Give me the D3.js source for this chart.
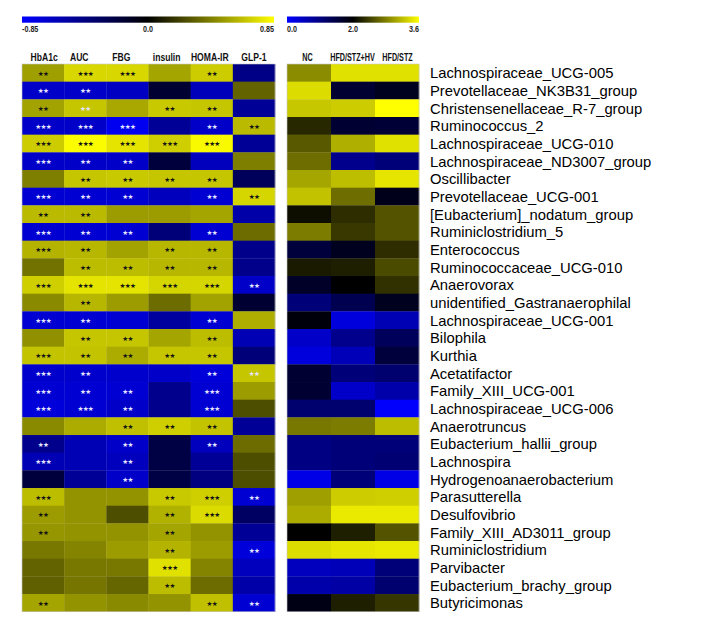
<!DOCTYPE html>
<html>
<head>
<meta charset="utf-8">
<script src="https://cdn.jsdelivr.net/npm/d3@7"></script>
<style>
  html, body { margin: 0; padding: 0; background: #fff; }
  svg { display: block; }
</style>
</head>
<body>
<svg id="chart" width="708" height="629"></svg>
<script>
// ---------- DATA ----------
const genera = [
  "Lachnospiraceae_UCG-005","Prevotellaceae_NK3B31_group","Christensenellaceae_R-7_group",
  "Ruminococcus_2","Lachnospiraceae_UCG-010","Lachnospiraceae_ND3007_group","Oscillibacter",
  "Prevotellaceae_UCG-001","[Eubacterium]_nodatum_group","Ruminiclostridium_5","Enterococcus",
  "Ruminococcaceae_UCG-010","Anaerovorax","unidentified_Gastranaerophilal","Lachnospiraceae_UCG-001",
  "Bilophila","Kurthia","Acetatifactor","Family_XIII_UCG-001","Lachnospiraceae_UCG-006",
  "Anaerotruncus","Eubacterium_hallii_group","Lachnospira","Hydrogenoanaerobacterium",
  "Parasutterella","Desulfovibrio","Family_XIII_AD3011_group","Ruminiclostridium","Parvibacter",
  "Eubacterium_brachy_group","Butyricimonas"
];
const clinicalIndices = ["HbA1c","AUC","FBG","insulin","HOMA-IR","GLP-1"];
const groups = ["NC","HFD/STZ+HV","HFD/STZ"];

// correlation coefficients (Spearman r) per clinical index, in genera order
const rHbA1c   = [0.53,-0.67,0.54,-0.67,0.68,-0.67,0.42,-0.70,0.62,-0.70,0.60,0.38,0.69,0.46,-0.70,0.48,0.65,-0.68,-0.70,-0.73,0.46,-0.47,-0.60,-0.20,0.63,0.52,0.50,0.40,0.33,0.32,0.55];
const rAUC     = [0.72,-0.67,0.66,-0.67,0.84,-0.67,0.66,-0.70,0.62,-0.70,0.61,0.63,0.76,0.61,-0.70,0.66,0.65,-0.68,-0.70,-0.70,0.57,-0.60,-0.60,-0.50,0.49,0.49,0.49,0.44,0.40,0.39,0.49];
const rFBG     = [0.72,-0.65,0.56,-0.80,0.76,-0.67,0.67,-0.70,0.52,-0.70,0.54,0.63,0.76,0.52,-0.70,0.66,0.57,-0.68,-0.70,-0.67,0.64,-0.67,-0.63,-0.67,0.49,0.26,0.49,0.52,0.40,0.34,0.46];
const rInsulin = [0.55,-0.17,0.67,-0.50,0.69,-0.20,0.66,-0.63,0.52,-0.40,0.61,0.61,0.71,0.36,-0.53,0.55,0.66,-0.67,-0.47,-0.47,0.69,-0.23,-0.23,-0.23,0.67,0.59,0.55,0.60,0.75,0.63,0.49];
const rHOMA    = [0.68,-0.62,0.66,-0.67,0.83,-0.63,0.66,-0.70,0.55,-0.70,0.61,0.61,0.71,0.54,-0.70,0.63,0.66,-0.73,-0.70,-0.70,0.65,-0.63,-0.50,-0.43,0.69,0.73,0.49,0.52,0.44,0.36,0.64];
const rGLP1    = [-0.45,0.33,-0.50,0.62,-0.50,0.42,-0.30,0.71,-0.56,0.36,-0.46,-0.46,-0.67,-0.17,0.58,-0.60,-0.40,0.66,0.52,0.26,-0.50,0.36,0.26,0.26,-0.70,-0.33,-0.50,-0.73,-0.63,-0.56,-0.70];

// significance marks
const sHbA1c   = ["**","**","**","***","***","***","","***","**","***","***","","***","","***","","***","***","***","***","","**","***","","***","**","**","","","","**"];
const sAUC     = ["***","**","**","***","***","**","**","**","**","**","**","**","***","**","**","**","**","**","**","***","","","","","","","","","","",""];
const sFBG     = ["***","","","***","***","**","**","**","","**","","**","***","","","**","**","","**","**","**","**","**","**","","","","","","",""];
const sInsulin = ["","","**","","***","","**","","","","**","**","***","","","","**","","","","**","","","","**","**","**","**","***","**",""];
const sHOMA    = ["**","","**","**","***","","**","**","","**","**","**","***","","**","**","**","**","***","***","**","**","","","***","***","","","","","**"];
const sGLP1    = ["","","","**","","","","**","","","","","**","","","","","**","","","","","","","**","","","**","","","**"];

// marks drawn in light colour on a yellow cell
const lightMarks = ["Christensenellaceae_R-7_group|AUC","Acetatifactor|GLP-1"];

// relative abundance (log scale) per group
const abNC    = [2.88,3.38,3.25,2.25,2.56,2.69,3.04,3.22,2.09,2.78,1.53,2.16,1.69,1.06,1.92,0.43,0.27,1.60,1.60,1.14,2.75,0.98,0.98,0.20,3.00,3.07,2.00,3.38,0.51,0.67,1.84];
const abHV    = [3.41,1.60,3.28,1.60,3.10,0.90,3.19,2.69,2.28,2.35,1.76,2.19,2.00,1.37,0.27,0.90,0.55,1.06,0.43,1.14,2.78,1.06,1.06,1.06,3.28,3.47,2.19,3.44,0.55,0.71,2.19];
const abHFD   = [3.41,1.76,3.60,1.57,3.41,1.06,3.44,1.80,2.53,2.53,2.28,2.47,2.31,1.76,0.59,1.29,1.53,1.14,0.67,0.02,3.18,1.06,1.10,0.20,3.30,3.47,2.53,3.47,1.06,1.14,2.34];

const corrTicks = ["-0.85","0.0","0.85"];
const abTicks = ["0.0","2.0","3.6"];

// ---------- BUILD ----------
const corrCols = [rHbA1c,rAUC,rFBG,rInsulin,rHOMA,rGLP1];
const sigCols = [sHbA1c,sAUC,sFBG,sInsulin,sHOMA,sGLP1];
const abCols = [abNC,abHV,abHFD];

const corrCells = [];
genera.forEach((g,i) => clinicalIndices.forEach((c,j) => {
  corrCells.push({g, c, v: corrCols[j][i], s: sigCols[j][i]});
}));
const abCells = [];
genera.forEach((g,i) => groups.forEach((c,j) => abCells.push({g, c, v: abCols[j][i]})));

const svg = d3.select("#chart");
const font = "'Liberation Sans', Arial, Helvetica, sans-serif";

const mapTop = 64, mapBottom = 611.7;
const y = d3.scaleBand().domain(genera).range([mapTop, mapBottom]).padding(0);
const xL = d3.scaleBand().domain(clinicalIndices).range([22, 275]).padding(0);
const xR = d3.scaleBand().domain(groups).range([287, 419]).padding(0);

const corrColor = d3.scaleLinear().domain([-0.85, 0, 0.85])
  .range(["#0000ff", "#000000", "#ffff00"]).interpolate(d3.interpolateRgb).clamp(true);
const abColor = d3.scaleLinear().domain([0, 2.0, 3.6])
  .range(["#0000ff", "#000000", "#ffff00"]).interpolate(d3.interpolateRgb).clamp(true);

// condensed (narrow) text: drawn at origin inside a scaled group
function narrowText(parent, x, yy, txt, opts) {
  const g = parent.append("g").attr("transform", `translate(${x},${yy}) scale(${opts.sx},1)`);
  g.append("text").attr("x", 0).attr("y", 0)
    .attr("text-anchor", opts.anchor || "middle")
    .attr("font-family", font).attr("font-size", opts.size).attr("font-weight", "bold")
    .attr("fill", opts.fill || "#111").text(txt);
}

// gradients
const defs = svg.append("defs");
function grad(id) {
  const g = defs.append("linearGradient").attr("id", id).attr("x1","0%").attr("x2","100%");
  [["0%","#0000ff"],["50%","#000000"],["100%","#ffff00"]].forEach(([o,c]) =>
    g.append("stop").attr("offset", o).attr("stop-color", c));
}
grad("gCorr"); grad("gAb");

// colour bars
function colorBar(x0, x1, id, ticks) {
  svg.append("rect").attr("x", x0).attr("y", 16.5).attr("width", x1 - x0).attr("height", 6.2)
    .attr("fill", `url(#${id})`);
  const pos = [x0, (x0 + x1) / 2, x1];
  const anchors = ["start", "middle", "end"];
  const gt = svg.append("g");
  ticks.forEach((t, k) => narrowText(gt, pos[k], 32, t, {sx: 0.8, size: 9, anchor: anchors[k], fill: "#222"}));
}
colorBar(22, 274, "gCorr", corrTicks);
colorBar(287, 419, "gAb", abTicks);

// column headers
const headerShift = {"HbA1c": 1, "AUC": -6, "FBG": -6, "insulin": -3, "HOMA-IR": -2, "GLP-1": 0};
const gh1 = svg.append("g");
clinicalIndices.forEach(d =>
  narrowText(gh1, xL(d) + xL.bandwidth() / 2 + headerShift[d], 61, d, {sx: 0.86, size: 10}));
const groupShift = {"NC": -1.5, "HFD/STZ+HV": -0.5, "HFD/STZ": 0.5};
const gh2 = svg.append("g");
groups.forEach(d =>
  narrowText(gh2, xR(d) + xR.bandwidth() / 2 + groupShift[d], 61, d, {sx: 0.72, size: 10}));

// left heatmap
svg.append("g").selectAll("rect").data(corrCells).join("rect")
  .attr("x", d => xL(d.c)).attr("y", d => y(d.g))
  .attr("width", xL.bandwidth() + 0.3).attr("height", y.bandwidth() + 0.3)
  .attr("fill", d => corrColor(d.v));

svg.append("rect").attr("x", 22).attr("y", mapTop).attr("width", 253).attr("height", mapBottom - mapTop)
  .attr("fill", "none").attr("stroke", "#c8c8c8").attr("stroke-width", 0.6);

// significance stars
svg.append("g").selectAll("text").data(corrCells.filter(d => d.s)).join("text")
  .attr("x", d => xL(d.c) + xL.bandwidth() / 2)
  .attr("y", d => y(d.g) + y.bandwidth() / 2 + 2.8)
  .attr("text-anchor", "middle")
  .attr("font-family", "'DejaVu Sans', sans-serif").attr("font-size", 6.6)
  .attr("letter-spacing", -0.7)
  .attr("fill", d => (d.v < 0 || lightMarks.includes(d.g + "|" + d.c)) ? "#e4e4ff" : "#151515")
  .text(d => d.s.replace(/\*/g, "\u2605"));

// right heatmap
svg.append("g").selectAll("rect").data(abCells).join("rect")
  .attr("x", d => xR(d.c)).attr("y", d => y(d.g))
  .attr("width", xR.bandwidth() + 0.3).attr("height", y.bandwidth() + 0.3)
  .attr("fill", d => abColor(d.v));
svg.append("rect").attr("x", 287).attr("y", mapTop).attr("width", 132).attr("height", mapBottom - mapTop)
  .attr("fill", "none").attr("stroke", "#c8c8c8").attr("stroke-width", 0.6);

// row labels
svg.append("g").selectAll("text").data(genera).join("text")
  .attr("x", 430)
  .attr("y", d => y(d) + y.bandwidth() / 2 + 5.4)
  .attr("font-family", font).attr("font-size", 14.8)
  .attr("fill", "#000").text(d => d);
</script>
</body>
</html>
